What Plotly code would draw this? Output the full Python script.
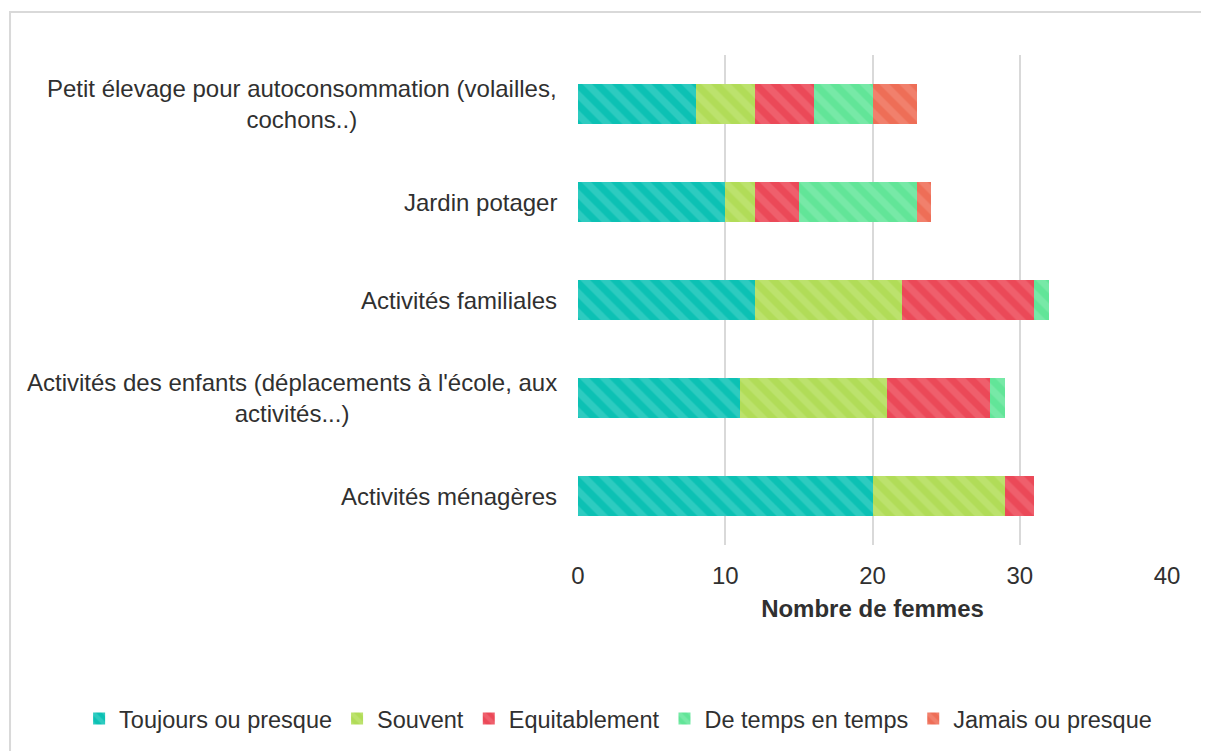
import plotly.graph_objects as go

# categories, top to bottom
activites = [
    "Petit élevage pour autoconsommation (volailles,<br>cochons..)",
    "Jardin potager",
    "Activités familiales",
    "Activités des enfants (déplacements à l'école, aux<br>activités...)",
    "Activités ménagères",
]

toujours = [8, 10, 12, 11, 20]
souvent = [4, 2, 10, 10, 9]
equitablement = [4, 3, 9, 7, 2]
de_temps = [4, 8, 1, 1, 0]
jamais = [3, 1, 0, 0, 0]

series = [
    ("Toujours ou presque", toujours, "#0cc1b4", "#2dcbc0"),
    ("Souvent", souvent, "#b1dc58", "#bce26d"),
    ("Equitablement", equitablement, "#eb4958", "#ef5f6c"),
    ("De temps en temps", de_temps, "#62e598", "#77e9a7"),
    ("Jamais ou presque", jamais, "#ee6e57", "#f1806c"),
]

FONT = "Liberation Sans, Arial, sans-serif"
TXT = "#303030"
FS = 24

fig = go.Figure()
for name, vals, base, light in series:
    fig.add_trace(go.Bar(
        y=activites, x=vals, name=name, orientation="h", width=0.41,
        marker=dict(
            color=base, line=dict(width=0),
            pattern=dict(shape="\\", fgcolor=light, fgopacity=1,
                         size=14, solidity=0.5),
        ),
    ))

# category labels: right-aligned block, centred lines
for cat in activites:
    fig.add_annotation(
        x=0, xref="paper", y=cat, yref="y", xanchor="right", xshift=-19,
        text=cat, showarrow=False, align="center",
        font=dict(family=FONT, size=FS, color=TXT),
    )

# outer chart border
fig.add_shape(type="rect", xref="paper", yref="paper",
              x0=-0.9643, x1=1.09, y0=1.0876, y1=-0.44,
              line=dict(color="#d9d9d9", width=2), fillcolor="rgba(0,0,0,0)")

fig.update_layout(
    width=1201, height=743,
    margin=dict(l=570, r=42, t=47, b=205),
    barmode="stack", bargap=0.59,
    paper_bgcolor="white", plot_bgcolor="white",
    font=dict(family=FONT, size=FS, color=TXT),
    xaxis=dict(
        range=[0, 40], dtick=10, showgrid=True, gridcolor="#d9d9d9",
        gridwidth=2, zeroline=False, showline=False, ticks="",
        ticklabelstandoff=14,
        tickfont=dict(size=FS, color=TXT),
        title=dict(text="<b>Nombre de femmes</b>", standoff=12,
                   font=dict(size=FS, color=TXT)),
    ),
    yaxis=dict(
        categoryorder="array", categoryarray=activites, autorange="reversed",
        showticklabels=False, showgrid=False, zeroline=False, ticks="",
    ),
    legend=dict(
        orientation="h", x=-0.847, xanchor="left", y=-0.352, yanchor="middle",
        font=dict(size=23.5, color=TXT), traceorder="normal",
        itemwidth=30,
    ),
)

fig.write_html("out.html")
